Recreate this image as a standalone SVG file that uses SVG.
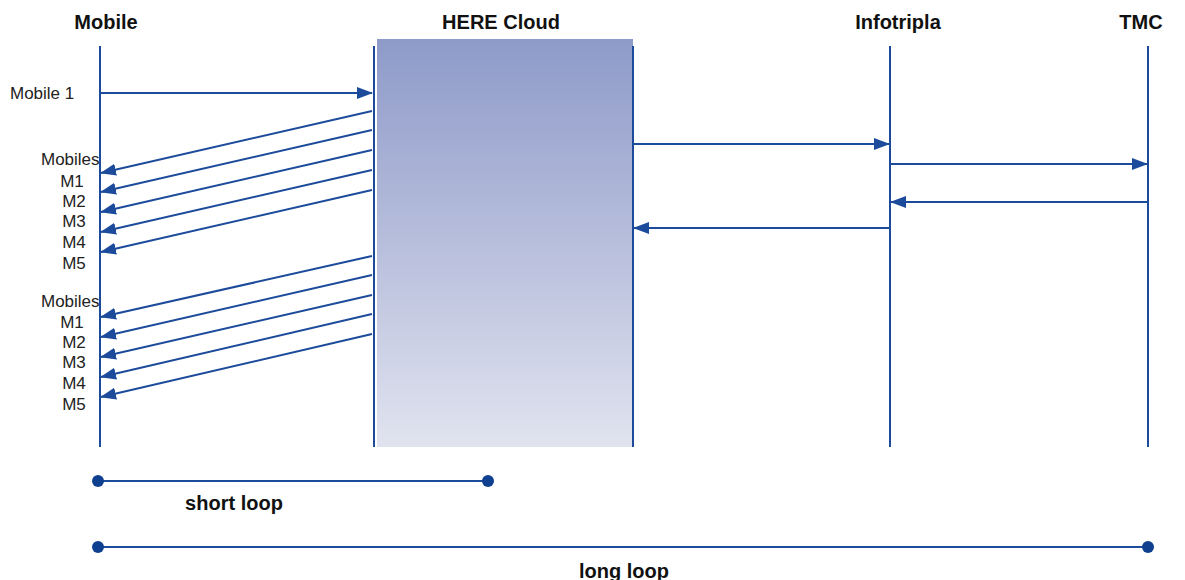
<svg xmlns="http://www.w3.org/2000/svg" width="1185" height="580" viewBox="0 0 1185 580">
<style>
.life{stroke:#1d4b9b;stroke-width:2;fill:none}
.msg{stroke:#1d4b9b;stroke-width:2;fill:none;marker-end:url(#ah)}
.loop{stroke:#1d4b9b;stroke-width:2.2;fill:none}
.dot{fill:#0f3f8f}
.hdr{font-family:"Liberation Sans",Arial,sans-serif;font-weight:bold;font-size:20px;fill:#111;text-anchor:middle}
.lbl{font-family:"Liberation Sans",Arial,sans-serif;font-size:17px;fill:#222}
.m{text-anchor:middle}
</style>
<defs>
<linearGradient id="cg" x1="0" y1="0" x2="0" y2="1">
<stop offset="0" stop-color="#8e9ac9"/>
<stop offset="1" stop-color="#e1e3ef"/>
</linearGradient>
<marker id="ah" markerWidth="16" markerHeight="12" refX="15" refY="6" orient="auto" markerUnits="userSpaceOnUse">
<path d="M0,0 L16,6 L0,12 Z" fill="#1d4b9b"/>
</marker>
</defs>
<g id="mobile">
<text class="hdr" x="106" y="29">Mobile</text>
<line class="life" x1="100" y1="46" x2="100" y2="447"/>
</g>
<g id="here-cloud">
<rect x="377" y="39" width="256" height="408" fill="url(#cg)"/>
<text class="hdr" x="501" y="29">HERE Cloud</text>
<line class="life" x1="374" y1="46" x2="374" y2="447"/>
<line class="life" x1="633" y1="46" x2="633" y2="447"/>
</g>
<g id="infotripla">
<text class="hdr" x="898" y="29">Infotripla</text>
<line class="life" x1="890" y1="46" x2="890" y2="447"/>
</g>
<g id="tmc">
<text class="hdr" x="1141" y="29">TMC</text>
<line class="life" x1="1148" y1="46" x2="1148" y2="447"/>
</g>
<g id="labels">
<text class="lbl" x="10" y="99">Mobile 1</text>
<text class="lbl" x="41" y="165">Mobiles</text>
<text class="lbl m" x="72" y="187">M1</text>
<text class="lbl m" x="74" y="207">M2</text>
<text class="lbl m" x="74" y="227">M3</text>
<text class="lbl m" x="74" y="248">M4</text>
<text class="lbl m" x="74" y="269">M5</text>
<text class="lbl" x="41" y="307">Mobiles</text>
<text class="lbl m" x="72" y="328">M1</text>
<text class="lbl m" x="74" y="348">M2</text>
<text class="lbl m" x="74" y="368">M3</text>
<text class="lbl m" x="74" y="389">M4</text>
<text class="lbl m" x="74" y="410">M5</text>
</g>
<g id="connectors">
<line class="msg" x1="100" y1="93" x2="372" y2="93"/>
<line class="msg" x1="372" y1="111" x2="101" y2="173"/>
<line class="msg" x1="372" y1="130" x2="101" y2="192"/>
<line class="msg" x1="372" y1="150" x2="101" y2="212"/>
<line class="msg" x1="372" y1="170" x2="101" y2="232"/>
<line class="msg" x1="372" y1="190" x2="101" y2="252"/>
<line class="msg" x1="372" y1="256" x2="101" y2="317"/>
<line class="msg" x1="372" y1="275" x2="101" y2="337"/>
<line class="msg" x1="372" y1="295" x2="101" y2="357"/>
<line class="msg" x1="372" y1="314" x2="101" y2="377"/>
<line class="msg" x1="372" y1="334" x2="101" y2="397"/>
<line class="msg" x1="633" y1="144" x2="889" y2="144"/>
<line class="msg" x1="890" y1="164" x2="1147" y2="164"/>
<line class="msg" x1="1148" y1="202" x2="891" y2="202"/>
<line class="msg" x1="890" y1="228" x2="634" y2="228"/>
</g>
<g id="short-loop">
<line class="loop" x1="98" y1="481" x2="488" y2="481"/>
<circle class="dot" cx="98" cy="481" r="6"/>
<circle class="dot" cx="488" cy="481" r="6"/>
<text class="hdr" x="234" y="510">short loop</text>
</g>
<g id="long-loop">
<line class="loop" x1="98" y1="547" x2="1148" y2="547"/>
<circle class="dot" cx="98" cy="547" r="6"/>
<circle class="dot" cx="1148" cy="547" r="6"/>
<text class="hdr" x="624" y="578">long loop</text>
</g>
</svg>
